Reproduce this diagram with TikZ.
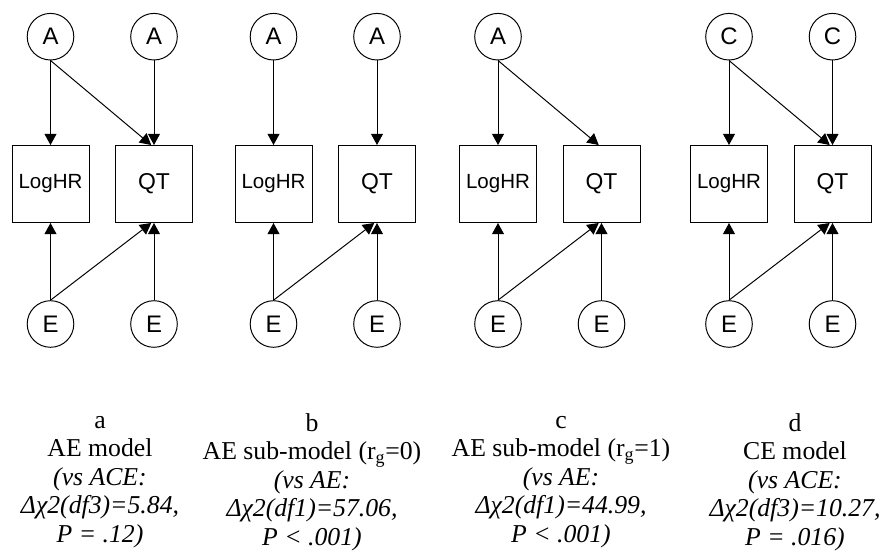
\documentclass[tikz,border=0pt]{standalone}
\usepackage{fontspec}
\setmainfont{Liberation Serif}
\newfontfamily\arialfont{Liberation Sans}
\usetikzlibrary{arrows.meta}

\begin{document}
\begin{tikzpicture}[
		latent/.style={circle, draw=black, line width=0.7pt, minimum size=1.165cm, inner sep=0pt, font=\arialfont\fontsize{17}{18}\selectfont},
		observed/.style={rectangle, draw=black, line width=0.7pt, minimum size=1.925cm, inner sep=0pt},
		logText/.style={font=\arialfont\fontsize{14.6}{16}\selectfont},
		qtText/.style={font=\arialfont\fontsize{16.3}{18}\selectfont},
		edgeArrow/.style={-{Triangle[width=0.3cm,length=0.28cm]}, line width=0.7pt},
		captionText/.style={align=center, font=\fontsize{18.3}{20.3}\selectfont}]
		\useasboundingbox (0,0) rectangle (22.35,-13.775);

		% panel a
		\node[latent](aTopL) at (1.2625,-0.9175){A};
		\node[latent](aTopR) at (3.85,-0.9175){A};
		\node[observed, logText](aLogHR) at (1.2625,-4.6){LogHR};
		\node[observed, qtText](aQT) at (3.85,-4.6){QT};
		\node[latent](aBotL) at (1.2625,-8.1){E};
		\node[latent](aBotR) at (3.85,-8.1){E};

		% panel b
		\node[latent](bTopL) at (6.8375,-0.9175){A};
		\node[latent](bTopR) at (9.425,-0.9175){A};
		\node[observed, logText](bLogHR) at (6.8375,-4.6){LogHR};
		\node[observed, qtText](bQT) at (9.425,-4.6){QT};
		\node[latent](bBotL) at (6.8375,-8.1){E};
		\node[latent](bBotR) at (9.425,-8.1){E};

		% panel c
		\node[latent](cTopL) at (12.45,-0.9175){A};
		\node[observed, logText](cLogHR) at (12.45,-4.6){LogHR};
		\node[observed, qtText](cQT) at (15.0375,-4.6){QT};
		\node[latent](cBotL) at (12.45,-8.1){E};
		\node[latent](cBotR) at (15.0375,-8.1){E};

		% panel d
		\node[latent](dTopL) at (18.225,-0.9175){C};
		\node[latent](dTopR) at (20.8125,-0.9175){C};
		\node[observed, logText](dLogHR) at (18.225,-4.6){LogHR};
		\node[observed, qtText](dQT) at (20.8125,-4.6){QT};
		\node[latent](dBotL) at (18.225,-8.1){E};
		\node[latent](dBotR) at (20.8125,-8.1){E};

		% draw top edges
		\draw[edgeArrow] (aTopL) -- (aLogHR);
		\draw[edgeArrow] (aTopL.south) -- ([xshift=-0.07cm]aQT.north);
		\draw[edgeArrow] (aTopR) -- (aQT);
		\draw[edgeArrow] (bTopL) -- (bLogHR);
		\draw[edgeArrow] (bTopR) -- (bQT);
		\draw[edgeArrow] (cTopL) -- (cLogHR);
		\draw[edgeArrow] (cTopL.south) -- ([xshift=-0.07cm]cQT.north);
		\draw[edgeArrow] (dTopL) -- (dLogHR);
		\draw[edgeArrow] (dTopL.south) -- ([xshift=-0.07cm]dQT.north);
		\draw[edgeArrow] (dTopR) -- (dQT);

		% draw bottom edges
		\draw[edgeArrow] (aBotL) -- (aLogHR);
		\draw[edgeArrow] (aBotL.north) -- ([xshift=-0.07cm]aQT.south);
		\draw[edgeArrow] (aBotR) -- (aQT);
		\draw[edgeArrow] (bBotL) -- (bLogHR);
		\draw[edgeArrow] (bBotL.north) -- ([xshift=-0.07cm]bQT.south);
		\draw[edgeArrow] (bBotR) -- (bQT);
		\draw[edgeArrow] (cBotL) -- (cLogHR);
		\draw[edgeArrow] (cBotL.north) -- ([xshift=-0.07cm]cQT.south);
		\draw[edgeArrow] (cBotR) -- (cQT);
		\draw[edgeArrow] (dBotL) -- (dLogHR);
		\draw[edgeArrow] (dBotL.north) -- ([xshift=-0.07cm]dQT.south);
		\draw[edgeArrow] (dBotR) -- (dQT);

		% captions
		\node[captionText](aCaption) at (2.5,-12.05){a\\AE model\\\textit{(vs ACE:}\\\textit{Δχ2(df3)=5.84,}\\\textit{P = .12)}};
		\node[captionText](bCaption) at (7.8,-12.05){b\\AE sub-model (r\textsubscript{g}=0)\\\textit{(vs AE:}\\\textit{Δχ2(df1)=57.06,}\\\textit{P < .001)}};
		\node[captionText](cCaption) at (14.025,-12.05){c\\AE sub-model (r\textsubscript{g}=1)\\\textit{(vs AE:}\\\textit{Δχ2(df1)=44.99,}\\\textit{P < .001)}};
		\node[captionText](dCaption) at (19.875,-12.05){d\\CE model\\\textit{(vs ACE:}\\\textit{Δχ2(df3)=10.27,}\\\textit{P = .016)}};
	\end{tikzpicture}
\end{document}
